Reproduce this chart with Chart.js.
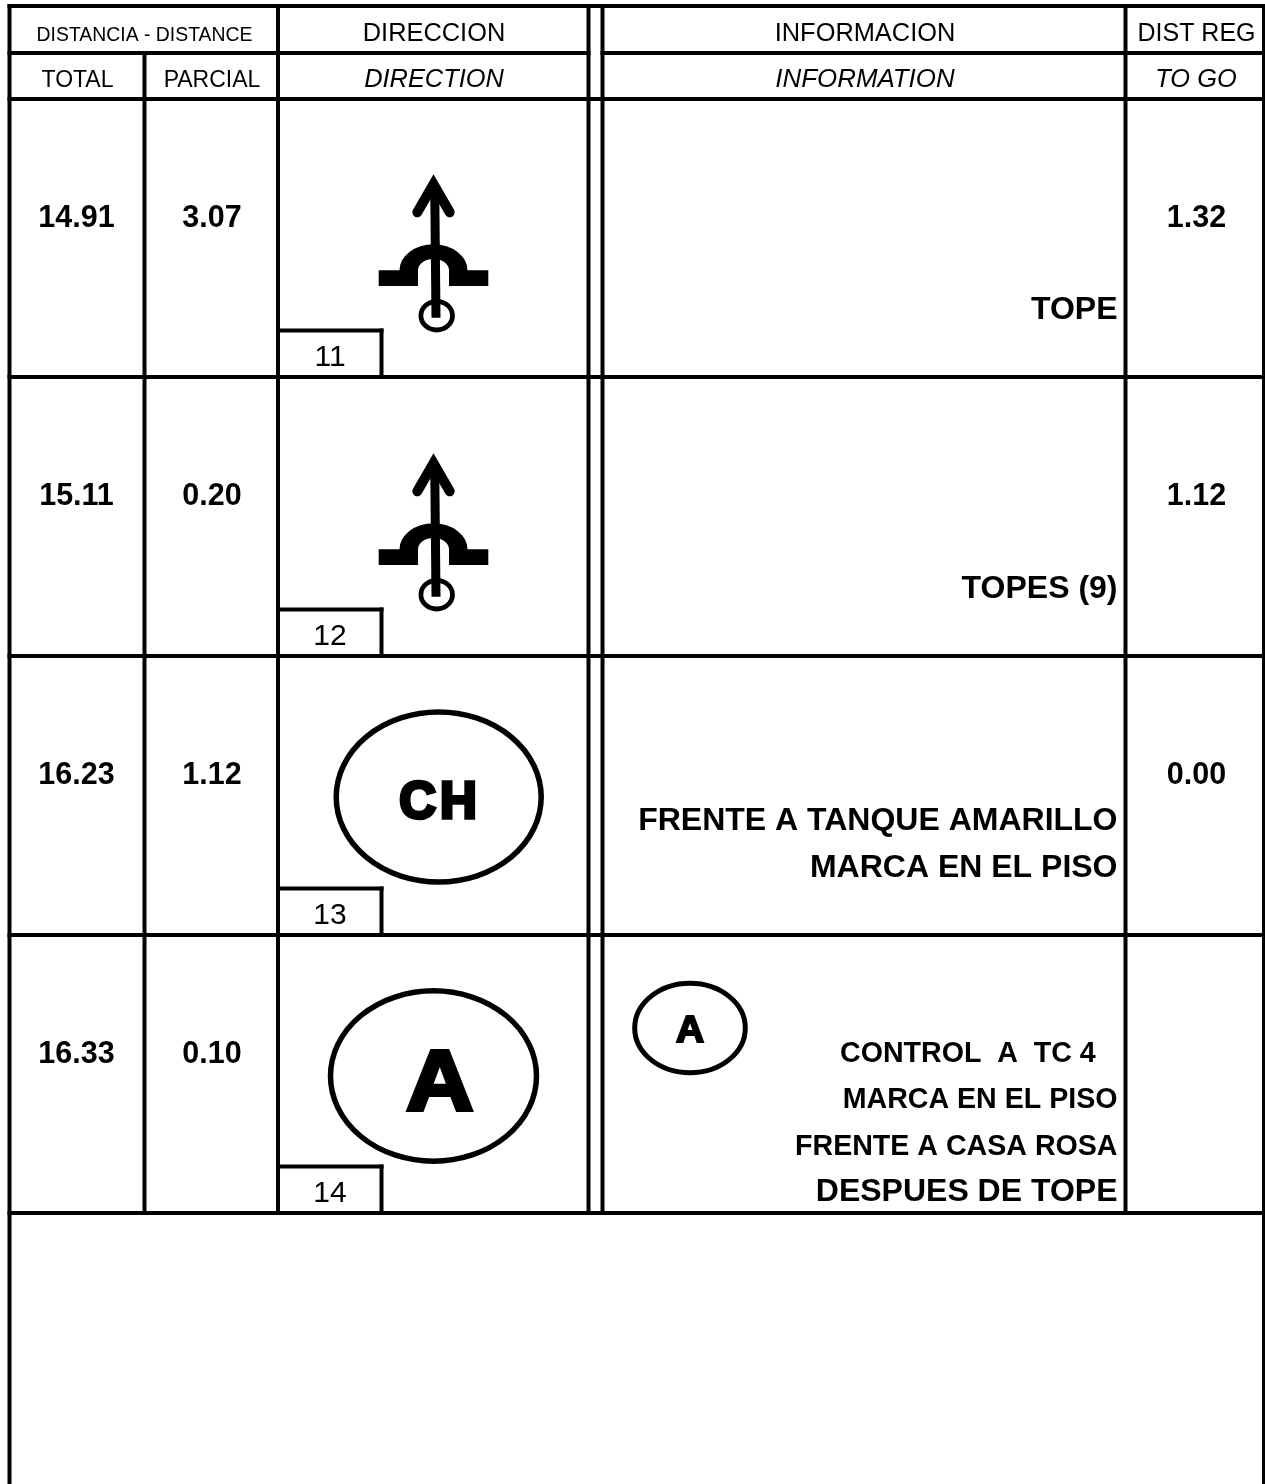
<!DOCTYPE html>
<html>
<head>
<meta charset="utf-8">
<style>
  html, body { margin: 0; padding: 0; background: #fff; overflow: hidden; }
  canvas { display: block; }
</style>
<script src="https://cdn.jsdelivr.net/npm/chart.js@4/dist/chart.umd.js"></script>
</head>
<body>
<canvas id="roadbook" width="1265" height="1484"></canvas>
<script>
// table values
const totals = [14.91, 15.11, 16.23, 16.33];
const partials = [3.07, 0.20, 1.12, 0.10];
const toGo = [1.32, 1.12, 0.00, null];
const stepNumbers = [11, 12, 13, 14];
const infoLines = [
  ["TOPE"],
  ["TOPES (9)"],
  ["FRENTE A TANQUE AMARILLO", "MARCA EN EL PISO"],
  ["MARCA EN EL PISO", "FRENTE A CASA ROSA", "DESPUES DE TOPE"],
];
const controlLine = "CONTROL  A  TC 4";

// layout of the sheet, in page units
const W = 1265, H = 1484;
const colX = [9.5, 144.5, 278, 588.5, 602.5, 1125.5, 1264];
const headY = [6, 53, 99];
const rowY = [99, 377, 656, 935, 1213];

function rule(x1, y1, x2, y2) {
  return {
    data: [{ x: x1, y: y1 }, { x: x2, y: y2 }],
    showLine: true,
    borderColor: "#000",
    borderWidth: 4,
    borderCapStyle: "square",
    pointRadius: 0,
  };
}

var rules = [];
rules.push(rule(colX[0], headY[0], W, headY[0]));
rules.push(rule(colX[0], headY[1], colX[3], headY[1]));
rules.push(rule(colX[4], headY[1], W, headY[1]));
rules.push(rule(colX[0], headY[2], W, headY[2]));
rowY.slice(1).forEach(function (y) {
  rules.push(rule(colX[0], y, W, y));
});
rules.push(rule(colX[0], headY[0], colX[0], H));
rules.push(rule(colX[1], headY[1], colX[1], rowY[4]));
rules.push(rule(colX[2], headY[0], colX[2], rowY[4]));
rules.push(rule(colX[3], headY[0], colX[3], rowY[4]));
rules.push(rule(colX[4], headY[0], colX[4], rowY[4]));
rules.push(rule(colX[5], headY[0], colX[5], rowY[4]));
rules.push(rule(colX[6], headY[0], colX[6], H));
// step number boxes
rowY.slice(1).forEach(function (y) {
  rules.push(rule(colX[2], y - 46.5, 381.5, y - 46.5));
  rules.push(rule(381.5, y - 46.5, 381.5, y));
});

const FONT = '"Liberation Sans", Arial, sans-serif';

const sheetPlugin = {
  id: "sheet",
  beforeDraw(chart) {
    var c = chart.ctx;
    c.save();
    c.fillStyle = "#fff";
    c.fillRect(0, 0, chart.width, chart.height);
    c.restore();
  },
  afterDatasetsDraw(chart) {
    var c = chart.ctx;
    var px = (v) => chart.scales.x.getPixelForValue(v);
    var py = (v) => chart.scales.y.getPixelForValue(v);

    function text(str, x, y, font, align) {
      c.font = font + " " + FONT;
      c.textAlign = align || "center";
      c.textBaseline = "alphabetic";
      c.fillStyle = "#000";
      c.fillText(str, px(x), py(y));
    }

    // heavy lettering, the sheet uses a black weight
    function heavy(str, x, y, size, stroke, stretch, spacing) {
      c.save();
      c.translate(px(x), py(y));
      c.scale(stretch, 1);
      c.font = "bold " + size + "px " + FONT;
      c.letterSpacing = (spacing || 0) + "px";
      c.textAlign = "center";
      c.textBaseline = "alphabetic";
      c.fillStyle = "#000";
      c.strokeStyle = "#000";
      c.lineWidth = stroke;
      c.lineJoin = "miter";
      c.fillText(str, 0, 0);
      c.strokeText(str, 0, 0);
      c.restore();
    }

    function oval(x, y, rx, ry, lw) {
      c.beginPath();
      c.ellipse(px(x), py(y), rx, ry, 0, 0, Math.PI * 2);
      c.lineWidth = lw;
      c.strokeStyle = "#000";
      c.stroke();
    }

    function bumpSymbol(bottom) {
      var y = (v) => py(bottom + v);
      c.strokeStyle = "#000";
      c.fillStyle = "#000";
      // arrow head
      c.beginPath();
      c.moveTo(px(417.3), y(-164.7));
      c.lineTo(px(433.5), y(-192.7));
      c.lineTo(px(449.7), y(-164.7));
      c.lineWidth = 10;
      c.lineCap = "round";
      c.lineJoin = "miter";
      c.stroke();
      // speed bump
      c.beginPath();
      c.moveTo(px(378.7), y(-91));
      c.lineTo(px(378.7), y(-106.7));
      c.lineTo(px(399.5), y(-106.7));
      c.ellipse(px(433.5), y(-106.7), 34, 26, 0, Math.PI, 0);
      c.lineTo(px(488.3), y(-106.7));
      c.lineTo(px(488.3), y(-91));
      c.lineTo(px(449), y(-91));
      c.lineTo(px(449), y(-106.7));
      c.ellipse(px(433.5), y(-106.7), 15.5, 11.3, 0, 0, Math.PI, true);
      c.lineTo(px(418), y(-91));
      c.closePath();
      c.fill();
      // shaft
      c.beginPath();
      c.moveTo(px(434.7), y(-190));
      c.lineTo(px(436), y(-59.3));
      c.lineWidth = 9;
      c.lineCap = "butt";
      c.stroke();
      oval(436.7, bottom - 61.3, 15.8, 14.3, 4.8);
    }

    // headers
    text("DISTANCIA - DISTANCE", 144.5, 41, "19.4px");
    text("DIRECCION", 434, 41, "25.4px");
    text("INFORMACION", 865, 41, "25.4px");
    text("DIST REG", 1196.5, 41, "25px");
    text("TOTAL", 77.5, 87, "23px");
    text("PARCIAL", 212, 87, "23px");
    text("DIRECTION", 434, 87, "italic 25.4px");
    text("INFORMATION", 865, 87, "italic 25.9px");
    text("TO GO", 1196, 87, "italic 25.4px");

    for (var i = 0; i < totals.length; i++) {
      var bottom = rowY[i + 1];
      var top = rowY[i];
      text(totals[i].toFixed(2), 76.5, top + 128, "bold 30.5px");
      text(partials[i].toFixed(2), 212, top + 128, "bold 30.5px");
      if (toGo[i] !== null) text(toGo[i].toFixed(2), 1196.5, top + 128, "bold 30.5px");
      text(String(stepNumbers[i]), 330, bottom - 11, "30px");
    }

    bumpSymbol(rowY[1]);
    bumpSymbol(rowY[2]);

    text(infoLines[0][0], 1117.5, 319, "bold 32px", "right");
    text(infoLines[1][0], 1117.5, 598, "bold 32px", "right");
    text(infoLines[2][0], 1117.5, 830, "bold 32px", "right");
    text(infoLines[2][1], 1117.5, 877, "bold 32px", "right");

    text(controlLine, 840, 1062, "bold 28.6px", "left");
    text(infoLines[3][0], 1117.5, 1108, "bold 28.6px", "right");
    text(infoLines[3][1], 1117.5, 1155, "bold 28.6px", "right");
    text(infoLines[3][2], 1117.5, 1201, "bold 32px", "right");

    oval(438.7, 797, 102.5, 85, 5.5);
    heavy("CH", 440, 817.5, 51, 3.5, 1, 4);
    oval(433.5, 1076, 103, 85.2, 5.5);
    heavy("A", 439.7, 1109.7, 86, 4, 1.08);
    oval(690, 1028, 55.3, 44.8, 5);
    heavy("A", 690, 1042.3, 37, 2, 1.05);
  },
};

var ctx = document.getElementById("roadbook").getContext("2d");
var chart = new Chart(ctx, {
  type: "scatter",
  data: { datasets: rules },
  plugins: [sheetPlugin],
  options: {
    responsive: false,
    animation: false,
    layout: { padding: 0 },
    plugins: { legend: { display: false }, tooltip: { enabled: false } },
    scales: {
      x: { type: "linear", min: 0, max: W, display: false },
      y: { type: "linear", min: 0, max: H, reverse: true, display: false },
    },
  },
});
</script>
</body>
</html>
